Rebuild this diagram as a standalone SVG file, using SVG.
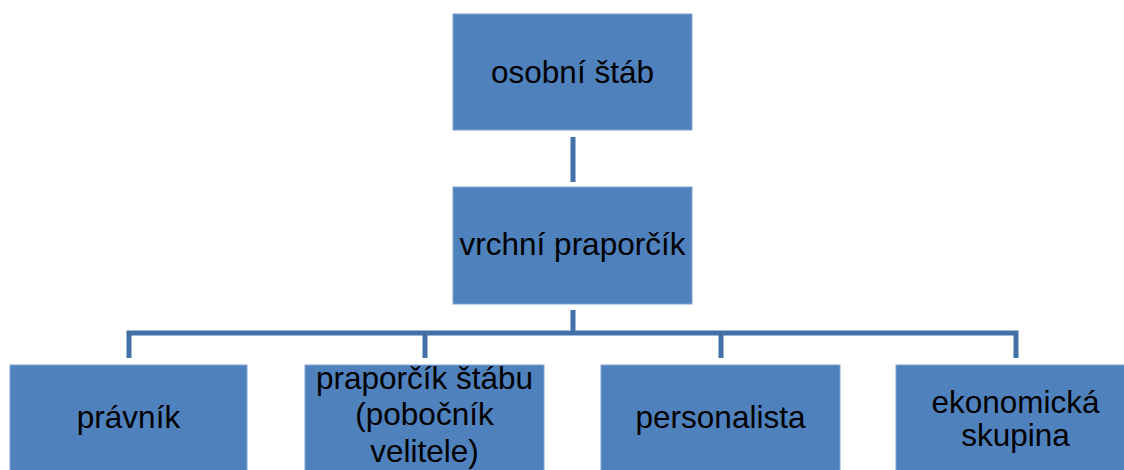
<svg xmlns="http://www.w3.org/2000/svg" width="1124" height="470" viewBox="0 0 1124 470">
<style>
.box{fill:#4F81BD;stroke:#7FA3D0;stroke-width:1}
.t{font-family:"Liberation Sans",Arial,sans-serif;font-size:31.5px;fill:#000;text-anchor:middle}
.c{fill:none;stroke:#4470A8;stroke-width:5}
</style>
<rect width="1124" height="470" fill="#fff"/>
<g id="connectors">
<line class="c" x1="573" y1="137" x2="573" y2="182"/>
<line class="c" x1="573" y1="310" x2="573" y2="333"/>
<path class="c" d="M129 358 V333 H1016 V358"/>
<line class="c" x1="425" y1="333" x2="425" y2="358"/>
<line class="c" x1="721" y1="333" x2="721" y2="358"/>
</g>
<g id="osobni-stab">
<rect class="box" x="453" y="14" width="239" height="116"/>
<text class="t" x="572.5" y="83">osobní štáb</text>
</g>
<g id="vrchni-praporcik">
<rect class="box" x="453" y="187" width="239" height="117"/>
<text class="t" x="572.5" y="255">vrchní praporčík</text>
</g>
<g id="pravnik">
<rect class="box" x="10" y="365" width="237" height="116"/>
<text class="t" x="128.5" y="428">právník</text>
</g>
<g id="praporcik-stabu">
<rect class="box" x="305" y="365" width="239" height="116"/>
<text class="t" x="424.5" y="389">praporčík štábu</text>
<text class="t" x="424.5" y="425">(pobočník</text>
<text class="t" x="424.5" y="462">velitele)</text>
</g>
<g id="personalista">
<rect class="box" x="601" y="365" width="239" height="116"/>
<text class="t" x="720.5" y="428">personalista</text>
</g>
<g id="ekonomicka-skupina">
<rect class="box" x="896" y="365" width="239" height="116"/>
<text class="t" x="1015.5" y="413">ekonomická</text>
<text class="t" x="1015.5" y="446">skupina</text>
</g>
</svg>
